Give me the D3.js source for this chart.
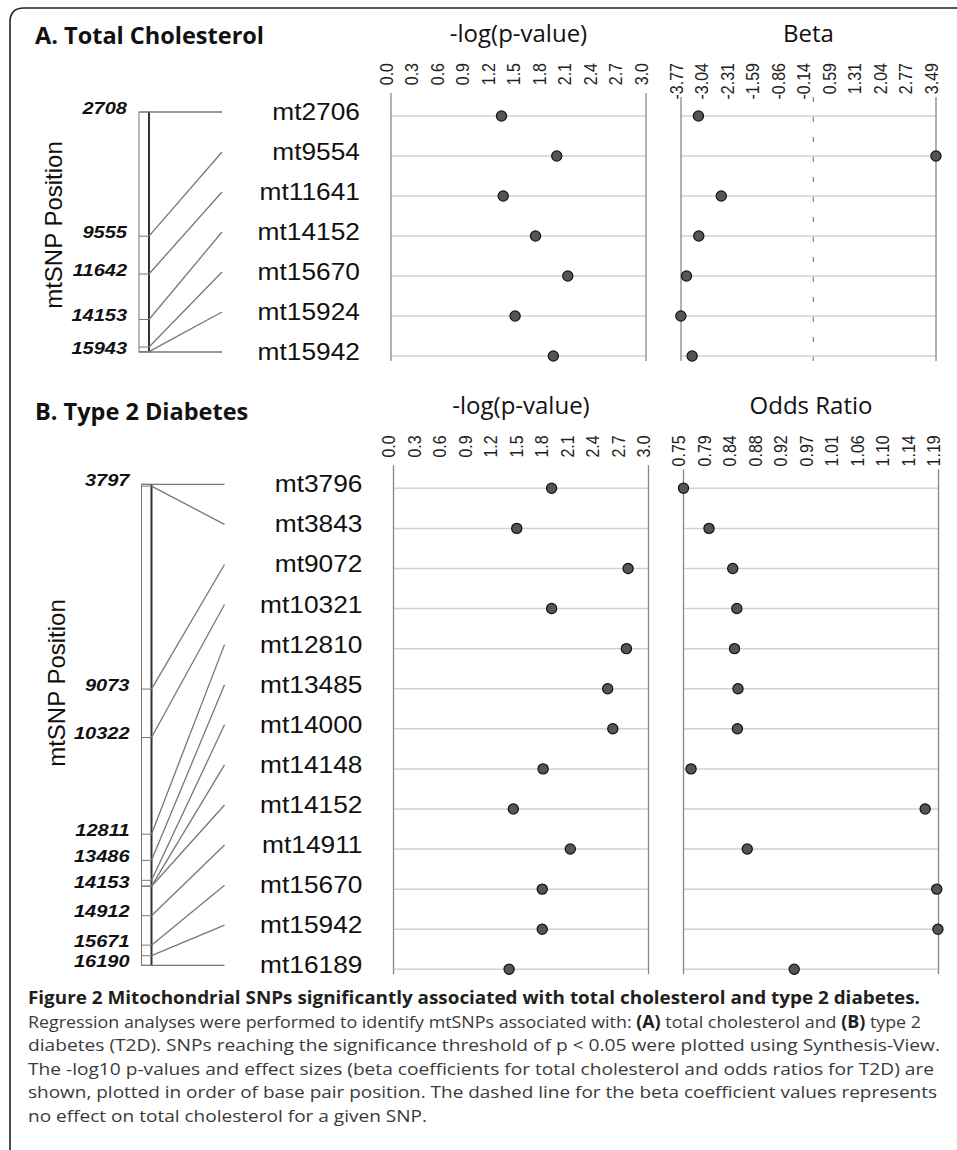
<!DOCTYPE html>
<html>
<head>
<meta charset="utf-8">
<script src="https://cdn.jsdelivr.net/npm/d3@7"></script>
<style>
  body { margin: 0; background: #fff; }
  svg { display: block; }
</style>
</head>
<body>
<div id="chart"></div>
<script>
// ---- data ----
const tcSnps = ["mt2706", "mt9554", "mt11641", "mt14152", "mt15670", "mt15924", "mt15942"];
const tcPositions = [2708, 9555, 11642, 14153, 15671, 15925, 15943];
const tcPosLabels = [2708, 9555, 11642, 14153, 15943];
const tcLogP = [1.30, 1.95, 1.32, 1.70, 2.08, 1.46, 1.91];
const tcBeta = [-3.27, 3.49, -2.62, -3.26, -3.61, -3.77, -3.45];

const t2dSnps = ["mt3796", "mt3843", "mt9072", "mt10321", "mt12810", "mt13485", "mt14000",
                 "mt14148", "mt14152", "mt14911", "mt15670", "mt15942", "mt16189"];
const t2dPositions = [3797, 3844, 9073, 10322, 12811, 13486, 14001, 14149, 14153, 14912, 15671, 15943, 16190];
const t2dPosLabels = [3797, 9073, 10322, 12811, 13486, 14153, 14912, 15671, 16190];
const t2dLogP = [1.86, 1.45, 2.76, 1.86, 2.74, 2.52, 2.58, 1.76, 1.41, 2.08, 1.75, 1.75, 1.36];
const t2dOR = [0.748, 0.792, 0.833, 0.840, 0.836, 0.842, 0.841, 0.761, 1.165, 0.858, 1.185, 1.187, 0.939];

const logPTicks = ["0.0", "0.3", "0.6", "0.9", "1.2", "1.5", "1.8", "2.1", "2.4", "2.7", "3.0"];
const betaTicks = ["-3.77", "-3.04", "-2.31", "-1.59", "-0.86", "-0.14", "0.59", "1.31", "2.04", "2.77", "3.49"];
const orTicks = ["0.75", "0.79", "0.84", "0.88", "0.92", "0.97", "1.01", "1.06", "1.10", "1.14", "1.19"];
const logPDomain = [0, 3];
const betaDomain = [-3.766, 3.4915];
const orDomain = [0.748, 1.188];

const captionLines = [
  [["Figure 2 Mitochondrial SNPs significantly associated with total cholesterol and type 2 diabetes.", true]],
  [["Regression analyses were performed to identify mtSNPs associated with: ", false], ["(A)", true],
   [" total cholesterol and ", false], ["(B)", true], [" type 2", false]],
  [["diabetes (T2D). SNPs reaching the significance threshold of p < 0.05 were plotted using Synthesis-View.", false]],
  [["The -log10 p-values and effect sizes (beta coefficients for total cholesterol and odds ratios for T2D) are", false]],
  [["shown, plotted in order of base pair position. The dashed line for the beta coefficient values represents", false]],
  [["no effect on total cholesterol for a given SNP.", false]]
];
const captionWidths = [892, 893, 912, 906, 909, 399];

// ---- drawing ----
const W = 957, H = 1150;
const SANS = "'Liberation Sans', Arial, sans-serif";
const OPEN = "'Open Sans', sans-serif";

const svg = d3.select("#chart").append("svg")
    .attr("width", W)
    .attr("height", H);

// frame
svg.append("path")
    .attr("d", "M10," + H + " V22 Q10,8 24,8 H" + W)
    .attr("fill", "none")
    .attr("stroke", "#222")
    .attr("stroke-width", 1.6);

const panels = [
  { title: "A. Total Cholesterol", titleY: 43.5, dx: 0, row0: 116, row1: 356,
    snps: tcSnps, positions: tcPositions, posLabels: tcPosLabels, logP: tcLogP,
    effect: tcBeta, effTicks: betaTicks, effDomain: betaDomain, effTitle: "Beta",
    axisTitleY: 225, zero: true },
  { title: "B. Type 2 Diabetes", titleY: 420, dx: 2.5, row0: 488.3, row1: 969.3,
    snps: t2dSnps, positions: t2dPositions, posLabels: t2dPosLabels, logP: t2dLogP,
    effect: t2dOR, effTicks: orTicks, effDomain: orDomain, effTitle: "Odds Ratio",
    axisTitleY: 683, zero: false }
];

panels.forEach(drawPanel);

function drawPanel(p) {
  svg.append("text")
      .attr("x", 35).attr("y", p.titleY)
      .attr("font-family", OPEN).attr("font-weight", 700).attr("font-size", 23.5)
      .attr("fill", "#111")
      .text(p.title);

  const g = svg.append("g").attr("transform", "translate(" + p.dx + ",0)");

  let y = d3.scalePoint().domain(p.snps).range([p.row0, p.row1]);
  let py = d3.scaleLinear().domain(d3.extent(p.positions)).range([p.row0 - 4, p.row1 - 4]);
  let xp = d3.scaleLinear().domain(logPDomain).range([391, 646]);
  let xe = d3.scaleLinear().domain(p.effDomain).range([681, 936]);

  // mtSNP position label
  g.append("text")
      .attr("transform", "translate(62," + p.axisTitleY + ") rotate(-90)")
      .attr("text-anchor", "middle")
      .attr("font-family", SANS).attr("font-size", 24)
      .attr("fill", "#111")
      .text("mtSNP Position");

  // position bar
  g.append("rect")
      .attr("x", 139).attr("y", py.range()[0])
      .attr("width", 10).attr("height", py.range()[1] - py.range()[0])
      .attr("fill", "#fff").attr("stroke", "#777").attr("stroke-width", 1);
  g.append("line")
      .attr("x1", 149).attr("x2", 149)
      .attr("y1", py.range()[0]).attr("y2", py.range()[1])
      .attr("stroke", "#333").attr("stroke-width", 2);

  g.selectAll(".postick").data(p.positions).enter()
    .append("line")
      .attr("x1", 139).attr("x2", 149)
      .attr("y1", (d) => py(d)).attr("y2", (d) => py(d))
      .attr("stroke", "#777").attr("stroke-width", 1);

  g.selectAll(".poslab").data(p.posLabels).enter()
    .append("text")
      .attr("transform", (d) => "translate(127," + (py(d) + 1.5) + ") scale(1.25,1)")
      .attr("text-anchor", "end")
      .attr("font-family", SANS).attr("font-weight", 700).attr("font-style", "italic")
      .attr("font-size", 16)
      .attr("fill", "#111")
      .text((d) => d);

  // connectors
  g.selectAll(".conn").data(p.snps).enter()
    .append("line")
      .attr("x1", 149).attr("y1", (d, i) => py(p.positions[i]))
      .attr("x2", 222).attr("y2", (d) => y(d) - 4)
      .attr("stroke", "#777").attr("stroke-width", 1.3);

  // snp names
  g.selectAll(".snp").data(p.snps).enter()
    .append("text")
      .attr("transform", (d) => "translate(360," + (y(d) + 4) + ") scale(1.12,1)")
      .attr("text-anchor", "end")
      .attr("font-family", SANS).attr("font-size", 23.5)
      .attr("fill", "#111")
      .text((d) => d);

  drawDotPlot(g, p, y, xp, logPTicks, p.logP, "-log(p-value)", false);
  drawDotPlot(g, p, y, xe, p.effTicks, p.effect, p.effTitle, p.zero);
}

function drawDotPlot(g, p, y, x, labels, values, title, zero) {
  let [lo, hi] = x.domain();
  let [x0, x1] = x.range();
  let top = p.row0 - 53;
  let bottom = p.row1 + 5;

  g.append("text")
      .attr("x", (x0 + x1) / 2).attr("y", p.row0 - 74)
      .attr("text-anchor", "middle")
      .attr("font-family", OPEN).attr("font-size", 24)
      .attr("fill", "#111")
      .text(title);

  let tickVals = labels.map((d, i) => lo + i * (hi - lo) / (labels.length - 1));
  let ax = g.append("g")
      .attr("transform", "translate(0," + top + ")")
      .call(d3.axisTop(x).tickValues(tickVals).tickFormat((d, i) => labels[i]).tickSize(0));
  ax.select(".domain").remove();
  ax.attr("font-family", SANS).attr("font-size", 16);
  ax.selectAll("text")
      .attr("x", 0).attr("y", 1).attr("dy", null)
      .attr("transform", "rotate(-90) scale(1,1.15)")
      .attr("text-anchor", "end")
      .attr("fill", "#222");

  // row lines
  g.selectAll(null).data(p.snps).enter()
    .append("line")
      .attr("x1", x0).attr("x2", x1)
      .attr("y1", (d) => y(d)).attr("y2", (d) => y(d))
      .attr("stroke", "#d2d2d2").attr("stroke-width", 1.5);

  // axis verticals
  let lineTop = p.row0 - (labels === logPTicks ? 23 : 19);
  g.selectAll(null).data([x0, x1]).enter()
    .append("line")
      .attr("x1", (d) => d).attr("x2", (d) => d)
      .attr("y1", lineTop).attr("y2", bottom)
      .attr("stroke", "#888").attr("stroke-width", 1.3);

  if (zero) {
    g.append("line")
        .attr("x1", x(0)).attr("x2", x(0))
        .attr("y1", p.row0 - 19).attr("y2", bottom)
        .attr("stroke", "#888").attr("stroke-width", 1.3)
        .attr("stroke-dasharray", "5,15");
  }

  g.selectAll(null).data(values).enter()
    .append("circle")
      .attr("cx", (d) => x(d))
      .attr("cy", (d, i) => y(p.snps[i]))
      .attr("r", 5.1)
      .attr("fill", "#555")
      .attr("stroke", "#111")
      .attr("stroke-width", 1.2);
}

// caption
let cap = svg.append("g")
    .attr("font-family", OPEN)
    .attr("font-size", 17);

captionLines.forEach((segs, i) => {
  let t = cap.append("text")
      .attr("x", 28)
      .attr("y", 1004 + i * 23.5)
      .attr("fill", i === 0 ? "#231f20" : "#3a3a3a");
  segs.forEach(([s, b]) => {
    t.append("tspan")
        .attr("font-weight", b ? 700 : 400)
        .attr("fill", b ? "#231f20" : null)
        .text(s);
  });
  t.attr("textLength", captionWidths[i]).attr("lengthAdjust", "spacingAndGlyphs");
});
</script>
</body>
</html>
